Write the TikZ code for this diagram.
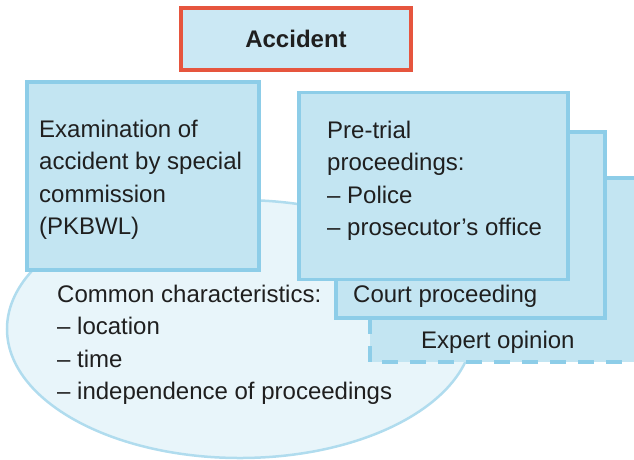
\documentclass[tikz,border=0pt]{standalone}
\usepackage{fontspec}
\setmainfont{Liberation Sans}
\usetikzlibrary{shapes.geometric}
\definecolor{boxfill}{HTML}{C3E5F2}
\definecolor{boxline}{HTML}{8DCDE8}
\definecolor{ellfill}{HTML}{E8F5FA}
\definecolor{ellline}{HTML}{B0DCEE}
\definecolor{accfill}{HTML}{CBE8F4}
\definecolor{accline}{HTML}{E6553E}
\begin{document}
\begin{tikzpicture}[x=1pt,y=-1pt,
  boxstyle/.style={draw=boxline, fill=boxfill, line width=3.5pt, rectangle, inner sep=0pt},
  txt/.style={anchor=base west, inner sep=0pt, align=left, font=\fontsize{24}{32.4}\selectfont, text=black!88},
]
\useasboundingbox (0,0) rectangle (634,459);
% ellipse
\node[draw=ellline, fill=ellfill, line width=2.5pt, ellipse, minimum width=466pt, minimum height=258pt, inner sep=0pt] (common) at (240,329) {};
% expert box
\fill[boxfill] (370,178) rectangle (640,362);
\coordinate (e1) at (370,318);
\coordinate (e2) at (370,362);
\coordinate (e3) at (640,362);
\coordinate (e4) at (605,178);
\coordinate (e5) at (640,178);
\draw[boxline, line width=3.5pt, dash pattern=on 16pt off 12pt] (e1) -- (e2) -- (e3);
\draw[boxline, line width=3.5pt] (e4) -- (e5);
\node[boxstyle] (court) at (470.5,225) [minimum width=269pt, minimum height=186pt] {};
\node[boxstyle] (pretrial) at (433.5,186) [minimum width=269pt, minimum height=187pt] {};
\node[boxstyle] (exam) at (143,176) [minimum width=232pt, minimum height=188pt] {};
\node[draw=accline, fill=accfill, line width=4pt, rectangle, inner sep=0pt, minimum width=230pt, minimum height=62pt] (accident) at (296,39) {};
% texts (base anchor = baseline of the last line)
\node[anchor=base, inner sep=0pt, font=\fontsize{24}{28}\selectfont\bfseries, text=black!88] (acctxt) at (296,47) {Accident};
\node[txt] (examtxt) at (39,234.5) {Examination of\\accident by special\\commission\\(PKBWL)};
\node[txt] (pretxt) at (327,235.5) {Pre-trial\\proceedings:\\– Police\\– prosecutor’s office};
\node[txt] (courttxt) at (353,302) {Court proceeding};
\node[txt] (experttxt) at (421,348) {Expert opinion};
\node[txt] (commontxt) at (57,399.5) {Common characteristics:\\– location\\– time\\– independence of proceedings};
\end{tikzpicture}
\end{document}
